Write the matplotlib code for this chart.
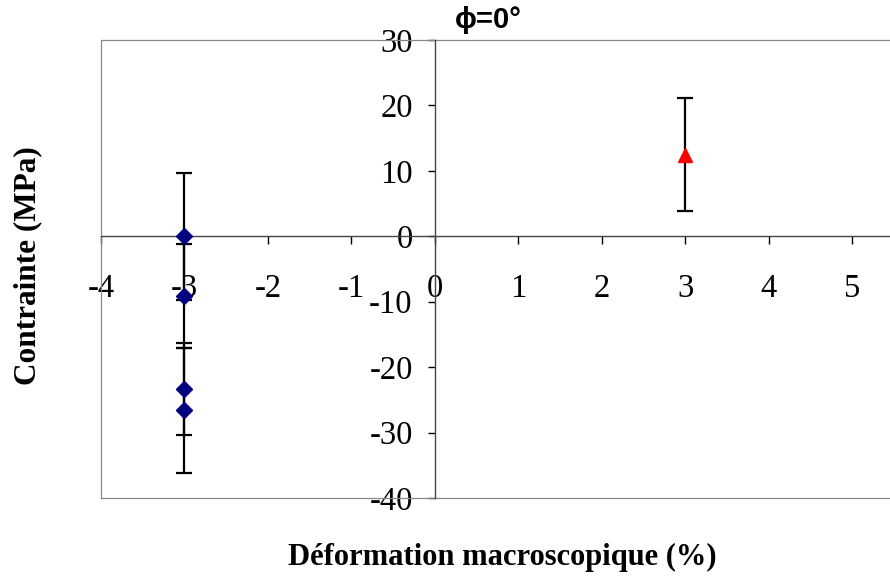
import matplotlib.pyplot as plt
import numpy as np

# blue series (diamonds)
x_blue = [-3, -3, -3, -3]
y_blue = [0.0, -9.1, -23.3, -26.6]
err_blue = [9.7, 7.9, 7.0, 9.6]

# red series (triangle)
x_red = [3]
y_red = [12.5]
err_red = [8.6]

xticks = [-4, -3, -2, -1, 0, 1, 2, 3, 4, 5]
yticks = [-40, -30, -20, -10, 0, 10, 20, 30]

plt.rcParams['font.family'] = ['Liberation Serif', 'DejaVu Serif']
plt.rcParams['axes.unicode_minus'] = False

fig = plt.figure(figsize=(8.9, 5.79), dpi=100)
ax = fig.add_axes([101 / 890, 81 / 579, 1 - 101 / 890, 458 / 579])

ax.errorbar(x_blue, y_blue, yerr=err_blue, fmt='none', ecolor='black',
            elinewidth=1.6, capsize=5.5, capthick=1.6, zorder=2)
ax.plot(x_blue, y_blue, 'D', color='#000080', markersize=8.5, zorder=3)
ax.errorbar(x_red, y_red, yerr=err_red, fmt='none', ecolor='black',
            elinewidth=1.6, capsize=5.5, capthick=1.6, zorder=2)
ax.plot(x_red, y_red, '^', color='red', markersize=10, zorder=3)

ax.set_xlim(-4, 5.45)
ax.set_ylim(-40, 30)

# axes crossing at zero
ax.spines['left'].set_position(('data', 0))
ax.spines['bottom'].set_position(('data', 0))
ax.spines['right'].set_visible(False)
ax.spines['top'].set_visible(False)
for s in ['left', 'bottom']:
    ax.spines[s].set_color('#444444')
    ax.spines[s].set_linewidth(1.0)

# plot area border
ax.plot([0, 0, 1], [0, 1, 1], transform=ax.transAxes, color='#888888', lw=0.9, clip_on=False)
ax.plot([0, 1], [0, 0], transform=ax.transAxes, color='#888888', lw=0.9, clip_on=False)

ax.set_xticks(xticks)
ax.set_yticks(yticks)
ax.tick_params(axis='x', direction='out', length=6, width=1, pad=21, labelsize=23.5)
ax.tick_params(axis='y', direction='out', length=5, width=1, pad=11, labelsize=23.5)

fig.text(0.511, 0.965, 'ϕ=0°', fontsize=21, fontweight='bold',
         family=['Liberation Sans', 'DejaVu Sans'], ha='left', va='center')
fig.text(0.031, 0.542, 'Contrainte (MPa)', rotation=90, fontsize=22.5,
         fontweight='bold', ha='center', va='center')
fig.text(0.564, 0.038, 'Déformation macroscopique (%)', fontsize=22,
         fontweight='bold', ha='center', va='center')

fig.savefig('out.png', dpi=100)
